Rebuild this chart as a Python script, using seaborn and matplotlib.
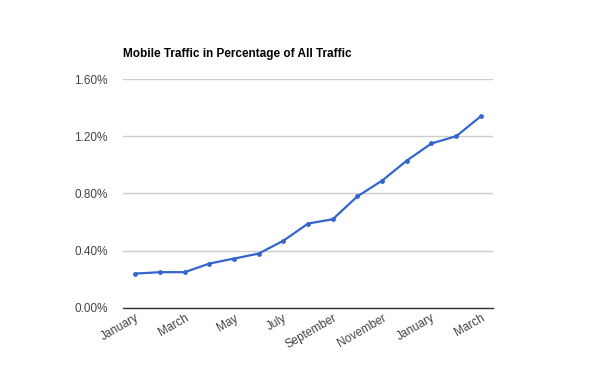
import matplotlib
matplotlib.use("Agg")
import matplotlib.pyplot as plt
import seaborn as sns
import pandas as pd
from matplotlib.ticker import FuncFormatter

# ── Data ──────────────────────────────────────────────────────
months = ["January", "February", "March", "April", "May", "June", "July",
          "August", "September", "October", "November", "December",
          "January", "February", "March"]
mobile_share = [0.24, 0.25, 0.25, 0.31, 0.345, 0.38, 0.47, 0.59, 0.62,
                0.78, 0.89, 1.03, 1.15, 1.20, 1.34]
y_ticks = [0.0, 0.4, 0.8, 1.2, 1.6]

df = pd.DataFrame({"idx": range(len(months)), "share": mobile_share})

# ── Plot ──────────────────────────────────────────────────────
sns.set_style("white")
plt.rcParams["font.family"] = ["Liberation Sans", "DejaVu Sans"]

fig = plt.figure(figsize=(6, 3.71), dpi=100)
ax = fig.add_axes([0.205, 0.170, 0.617, 0.617])

sns.lineplot(data=df, x="idx", y="share", ax=ax, color="#3366cc",
             linewidth=1.6, marker="o", markersize=3.5,
             markeredgewidth=0, zorder=3)

ax.set_xlim(-0.5, len(months) - 0.5)
ax.set_ylim(0, 1.6)
ax.set_yticks(y_ticks)
ax.yaxis.set_major_formatter(FuncFormatter(lambda v, p: f"{v:.2f}%"))
ax.grid(axis="y", color="#cccccc", linewidth=1)
ax.set_axisbelow(True)

ticks = list(range(0, len(months), 2))
ax.set_xticks(ticks)
ax.set_xticklabels([months[i] for i in ticks], rotation=30, ha="right",
                   rotation_mode="anchor")
ax.tick_params(axis="both", length=0, labelsize=8.5, labelcolor="#444444")
ax.tick_params(axis="x", pad=3)
ax.tick_params(axis="y", pad=11)

for s in ["top", "right", "left"]:
    ax.spines[s].set_visible(False)
ax.spines["bottom"].set_color("#333333")
ax.spines["bottom"].set_linewidth(1)
ax.spines["bottom"].set_zorder(4)

ax.set_xlabel("")
ax.set_ylabel("")
fig.text(0.205, 0.855, "Mobile Traffic in Percentage of All Traffic",
         fontsize=8.5, fontweight="bold", color="black",
         ha="left", va="center")

fig.savefig("out.png", dpi=100)
